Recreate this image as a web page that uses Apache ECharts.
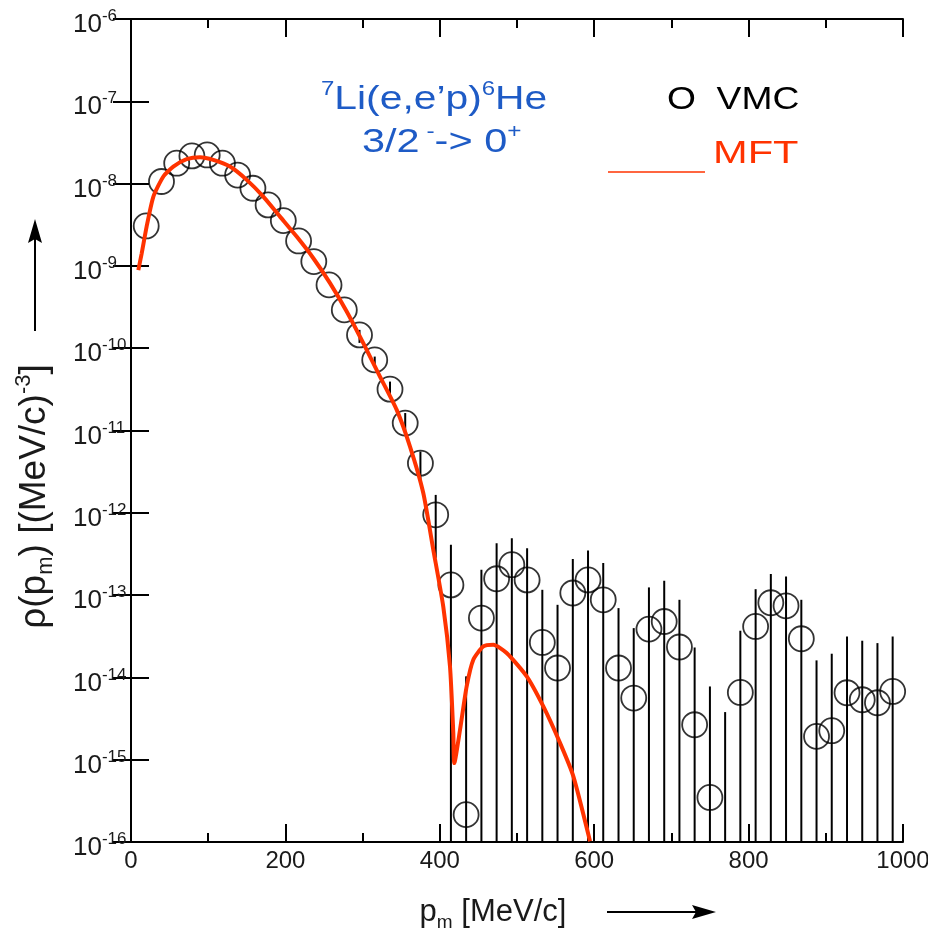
<!DOCTYPE html>
<html><head><meta charset="utf-8">
<script src="https://cdn.jsdelivr.net/npm/echarts@6/dist/echarts.min.js"></script>
<style>html,body{margin:0;padding:0;background:#fff}#c{width:928px;height:944px}</style>
</head><body><div id="c"></div>
<script>
const FONT = '"Liberation Sans", Arial, Helvetica, sans-serif';

// x-axis ticks (MeV/c) and y-axis decades
const xTickValues = [0, 200, 400, 600, 800, 1000];
const yDecades = [-16, -15, -14, -13, -12, -11, -10, -9, -8, -7, -6];

// VMC points (open circles)
const vmcP = [19.7, 39.5, 59.2, 78.9, 98.7, 118.4, 138.1, 157.9, 177.6, 197.3,
  217.1, 236.8, 256.5, 276.3, 296.0, 315.7, 335.5, 355.2, 374.9, 394.7,
  414.4, 434.1, 453.9, 473.6, 493.3, 513.1, 532.8, 552.5, 572.3, 592.0,
  611.7, 631.5, 651.2, 670.9, 690.7, 710.4, 730.1, 749.9, 769.6, 789.3,
  809.1, 828.8, 848.5, 868.3, 888.0, 907.7, 927.5, 947.2, 966.9, 986.6];
const vmcRho = [3.06e-9, 1.06e-8, 1.77e-8, 2.17e-8, 2.23e-8, 1.77e-8, 1.27e-8, 8.78e-9, 5.51e-9, 3.55e-9,
  2.01e-9, 1.13e-9, 5.88e-10, 2.92e-10, 1.45e-10, 7.21e-11, 3.18e-11, 1.23e-11, 4.01e-12, 9.46e-13,
  1.33e-13, 2.15e-16, 5.26e-14, 1.58e-13, 2.34e-13, 1.53e-13, 2.66e-14, 1.30e-14, 1.06e-13, 1.53e-13,
  8.77e-14, 1.30e-14, 5.61e-15, 3.86e-14, 4.78e-14, 2.34e-14, 2.66e-15, 3.48e-16, null, 6.56e-15,
  4.16e-14, 8.07e-14, 7.41e-14, 2.95e-14, 1.92e-15, 2.25e-15, 6.51e-15, 5.35e-15, 4.92e-15, 6.75e-15];

// VMC error bars (upper / lower ends; 1e-16 = reaches the axis floor)
const errP = [296.0, 315.7, 335.5, 355.2, 374.9, 394.7,
  414.4, 434.1, 453.9, 473.6, 493.3, 513.1, 532.8, 552.5, 572.3, 592.0,
  611.7, 631.5, 651.2, 670.9, 690.7, 710.4, 730.1, 749.9, 769.6, 789.3,
  809.1, 828.8, 848.5, 868.3, 888.0, 907.7, 927.5, 947.2, 966.9, 986.6];
const errHi = [1.67e-10, 7.91e-11, 3.93e-11, 1.63e-11, 5.55e-12, 1.65e-12,
  4.09e-13, 1.03e-14, 2.03e-13, 4.28e-13, 4.92e-13, 3.72e-13, 1.16e-13, 7.62e-14, 2.74e-13, 3.48e-13,
  2.45e-13, 6.95e-14, 3.97e-14, 1.24e-13, 1.49e-13, 8.77e-14, 2.31e-14, 7.76e-15, 3.79e-15, 3.69e-14,
  1.18e-13, 1.80e-13, 1.68e-13, 8.77e-14, 1.61e-14, 1.94e-14, 3.14e-14, 2.79e-14, 2.61e-14, 3.14e-14];
const errLo = [1.16e-10, 6.27e-11, 2.58e-11, 8.86e-12, 2.29e-12, 2.84e-13,
  1e-16, 1e-16, 1e-16, 1e-16, 1e-16, 1e-16, 1e-16, 1e-16, 1e-16, 1e-16,
  1e-16, 1e-16, 1e-16, 1e-16, 1e-16, 1e-16, 1e-16, 1e-16, 1e-16, 1e-16,
  1e-16, 1e-16, 1e-16, 1e-16, 1e-16, 1e-16, 1e-16, 1e-16, 1e-16, 1e-16];

// MFT curve (red line)
const mftP = [9.5, 13.8, 20.3, 28.9, 41.9, 54.8, 72.1, 89.4, 106.6, 128.2,
  149.9, 171.4, 193.0, 214.6, 236.2, 257.8, 279.4, 300.9, 322.5, 344.2,
  361.4, 378.6, 391.6, 404.5, 413.2, 417.5, 418.8, 426.2, 434.8, 443.4,
  456.4, 469.3, 486.6, 512.6, 534.1, 555.7, 573.0, 594.6];
const mftRho = [8.91e-10, 1.41e-9, 3.02e-9, 6.92e-9, 1.22e-8, 1.61e-8, 1.98e-8, 2.09e-8, 1.94e-8, 1.61e-8,
  1.11e-8, 6.95e-9, 3.97e-9, 2.27e-9, 1.24e-9, 6.17e-10, 2.79e-10, 1.15e-10, 4.52e-11, 1.78e-11,
  6.38e-12, 1.74e-12, 3.55e-13, 7.24e-14, 1.36e-14, 2.11e-15, 9.10e-16, 2.31e-15, 7.76e-15, 1.64e-14,
  2.38e-14, 2.49e-14, 1.98e-14, 1.03e-14, 4.44e-15, 1.60e-15, 6.27e-16, 1.02e-16];

const BLUE = '#1e5bc6';
const RED = '#ff3300';
const INK = '#1a1a1a';

const chart = echarts.init(document.getElementById('c'), null, {renderer: 'canvas'});

const frameLine = {show: true, lineStyle: {color: '#000', width: 2}};
const xTickCommon = {show: true, inside: true, length: 18, lineStyle: {color: '#000', width: 2}};
const xMinor = {show: true, splitNumber: 2, length: 9, lineStyle: {color: '#000', width: 2}};

const xMin = xTickValues[0], xMax = xTickValues[xTickValues.length - 1];
const xStep = xTickValues[1] - xTickValues[0];
const yMin = Math.pow(10, yDecades[0]), yMax = Math.pow(10, yDecades[yDecades.length - 1]);
const yTickVals = yDecades.map(e => Math.pow(10, e));
const yTickCommon = {show: true, inside: true, length: 18, customValues: yTickVals,
  lineStyle: {color: '#000', width: 2}};

const option = {
  animation: false,
  backgroundColor: '#fff',
  textStyle: {fontFamily: FONT},
  grid: {left: 131, right: 25, top: 19, bottom: 102, containLabel: false, outerBoundsMode: 'none'},
  xAxis: [{
    type: 'value', min: xMin, max: xMax, interval: xStep, position: 'bottom',
    axisLine: frameLine, axisTick: xTickCommon, minorTick: xMinor,
    splitLine: {show: false},
    axisLabel: {color: INK, fontSize: 24, fontFamily: FONT, margin: 7,
      formatter: v => String(v)},
    name: '{a|p}{sub|m}{a| [MeV/c]}', nameLocation: 'middle', nameGap: 50,
    nameTextStyle: {
      padding: [0, 48, 0, 0],
      rich: {
        a: {fontSize: 31, fontFamily: FONT, color: INK, lineHeight: 40, verticalAlign: 'middle'},
        sub: {fontSize: 19, fontFamily: FONT, color: INK, lineHeight: 19, verticalAlign: 'bottom'}
      }
    }
  }, {
    type: 'value', min: xMin, max: xMax, interval: xStep, position: 'top',
    axisLine: frameLine, axisTick: xTickCommon, minorTick: xMinor,
    splitLine: {show: false}, axisLabel: {show: false}
  }],
  yAxis: [{
    type: 'log', logBase: 10, min: yMin, max: yMax, splitNumber: yDecades.length - 1,
    position: 'left',
    axisLine: frameLine, axisTick: yTickCommon, splitLine: {show: false},
    minorTick: {show: false},
    axisLabel: {
      margin: 58,
      align: 'left',
      padding: [8, 0, 0, 0],
      customValues: yTickVals,
      formatter: function (v) {
        const e = Math.round(Math.log10(v));
        return '{b|10}{s|' + e + '}';
      },
      rich: {
        b: {fontSize: 26, fontFamily: FONT, color: INK, lineHeight: 30, verticalAlign: 'bottom'},
        s: {fontSize: 17, fontFamily: FONT, color: INK, lineHeight: 17, verticalAlign: 'top'}
      }
    },
    name: '{a|\u03c1(p}{sub|m}{a|) [(MeV/c)}{sup|-3}{a|]}',
    nameLocation: 'middle', nameRotate: 90, nameGap: 74,
    nameTextStyle: {
      padding: [0, 132, 0, 0],
      rich: {
        a: {fontSize: 37, fontFamily: FONT, color: INK, lineHeight: 44, verticalAlign: 'middle'},
        sub: {fontSize: 22, fontFamily: FONT, color: INK, lineHeight: 22, verticalAlign: 'bottom'},
        sup: {fontSize: 22, fontFamily: FONT, color: INK, lineHeight: 22, verticalAlign: 'top'}
      }
    }
  }, {
    type: 'log', logBase: 10, min: yMin, max: yMax, splitNumber: yDecades.length - 1,
    position: 'right',
    axisLine: frameLine, axisTick: yTickCommon, splitLine: {show: false},
    minorTick: {show: false},
    axisLabel: {show: false}
  }],
  series: [{
    name: 'VMC error',
    type: 'custom',
    xAxisIndex: 0, yAxisIndex: 0,
    clip: true,
    data: errP.map((p, i) => [p, errHi[i], errLo[i]]),
    encode: {x: 0, y: [1, 2]},
    renderItem: function (params, api) {
      const top = api.coord([api.value(0), api.value(1)]);
      const bot = api.coord([api.value(0), api.value(2)]);
      return {
        type: 'line',
        shape: {x1: top[0], y1: top[1], x2: bot[0], y2: bot[1]},
        style: {stroke: '#000', lineWidth: 2}
      };
    },
    z: 2
  }, {
    name: 'VMC',
    type: 'scatter',
    xAxisIndex: 0, yAxisIndex: 0,
    symbol: 'circle', symbolSize: 25,
    itemStyle: {color: 'rgba(0,0,0,0)', borderColor: '#000', borderWidth: 1.8},
    data: vmcP.map((p, i) => [p, vmcRho[i] == null ? '-' : vmcRho[i]]),
    z: 3
  }, {
    name: 'MFT',
    type: 'line',
    xAxisIndex: 0, yAxisIndex: 0,
    showSymbol: false, symbol: 'none',
    smooth: 0.2, clip: true,
    lineStyle: {color: RED, width: 4},
    data: mftP.map((p, i) => [p, mftRho[i]]),
    z: 4
  }],
  graphic: [
    // y-axis arrow
    {type: 'line', shape: {x1: 35, y1: 331, x2: 35, y2: 236}, style: {stroke: '#000', lineWidth: 2}},
    {type: 'polygon', shape: {points: [[35, 219], [42, 243], [35, 239], [28, 243]]}, style: {fill: '#000'}},
    // x-axis arrow
    {type: 'line', shape: {x1: 607, y1: 912, x2: 700, y2: 912}, style: {stroke: '#000', lineWidth: 2}},
    {type: 'polygon', shape: {points: [[716, 912], [692, 919], [696, 912], [692, 905]]}, style: {fill: '#000'}},
    // reaction annotation
    {type: 'text', x: 321, y: 98, scaleX: 1.2,
      style: {
        text: '{s|7}{t|Li(e,e\u2019p)}{s|6}{t|He}', align: 'left', verticalAlign: 'middle',
        rich: {
          t: {fontSize: 34, fontFamily: FONT, fill: BLUE, lineHeight: 38, verticalAlign: 'bottom'},
          s: {fontSize: 20, fontFamily: FONT, fill: BLUE, lineHeight: 20, verticalAlign: 'top'}
        }
      }},
    {type: 'text', x: 362, y: 141, scaleX: 1.22,
      style: {
        text: '{t|3/2}{s| -}{t|-> 0}{s|+}', align: 'left', verticalAlign: 'middle',
        rich: {
          t: {fontSize: 34, fontFamily: FONT, fill: BLUE, lineHeight: 38, verticalAlign: 'bottom'},
          s: {fontSize: 20, fontFamily: FONT, fill: BLUE, lineHeight: 20, verticalAlign: 'top'}
        }
      }},
    // legend
    {type: 'text', x: 667, y: 100, scaleX: 1.2,
      style: {text: 'O  VMC', fill: '#000', fontSize: 31, fontFamily: FONT, align: 'left', verticalAlign: 'middle'}},
    {type: 'line', shape: {x1: 608, y1: 172, x2: 705, y2: 172}, style: {stroke: RED, lineWidth: 1.5}},
    {type: 'text', x: 713, y: 154, scaleX: 1.3,
      style: {text: 'MFT', fill: RED, fontSize: 32, fontFamily: FONT, align: 'left', verticalAlign: 'middle'}}
  ]
};
chart.setOption(option);
</script>
</body></html>
